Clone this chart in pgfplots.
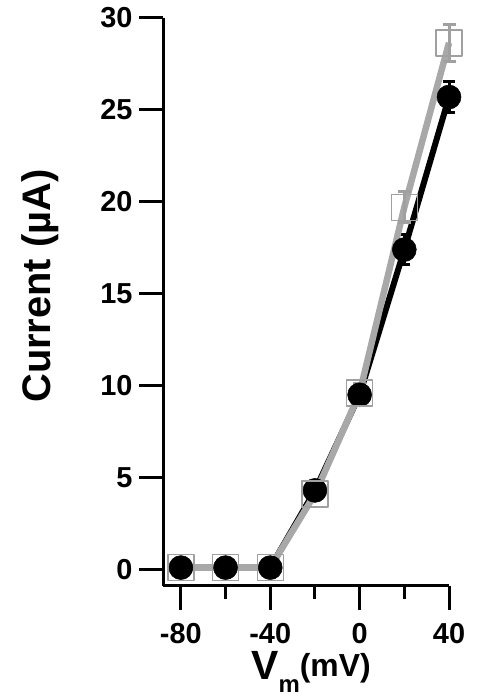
\documentclass[border=0pt]{standalone}
\usepackage{pgfplots}
\pgfplotsset{compat=1.18}
\usepackage{pgfplotstable}
\usepackage{fontspec}
\setmainfont{Liberation Sans}
\definecolor{lgray}{HTML}{A8A8A8}
\definecolor{sqgray}{HTML}{A0A0A0}
\pgfplotstableread{
x y e
-80 0.1 0.2
-60 0.1 0.2
-40 0.1 0.2
-20 4.3 0.3
0 9.5 0.4
20 17.4 0.8
40 25.7 0.85
}\blackdata
\pgfplotstableread{
x y e
-80 0.1 0.2
-60 0.1 0.2
-40 0.1 0.2
-20 4.1 0.3
0 9.6 0.5
20 19.7 0.85
40 28.65 1.0
}\graydata
\begin{document}
\begin{tikzpicture}[x=1bp,y=1bp]
\path[use as bounding box] (0,0) rectangle (480,700);
\begin{axis}[
  at={(163bp,114bp)}, anchor=south west,
  scale only axis, width=286bp, height=568bp,
  xmin=-88, xmax=40, ymin=-0.9, ymax=30,
  axis lines=left,
  axis line style={-, line width=3bp, black},
  tick align=outside,
  major tick length=24bp, minor tick length=13bp,
  every tick/.style={black, line width=3bp},
  xtick={-80,-40,0,40}, xticklabels={-80,-40,0,40},
  minor xtick={-60,-20,20},
  ytick={0,5,10,15,20,25,30}, yticklabels={0,5,10,15,20,25,30},
  tick label style={font=\fontsize{29}{29}\selectfont\bfseries},
  xticklabel style={yshift=-10bp},
  yticklabel style={xshift=-3bp},
  clip=false,
  xlabel={{\fontsize{41}{41}\selectfont V}\raisebox{-13bp}{\fontsize{24}{24}\selectfont m}\raisebox{3bp}{\fontsize{32}{32}\selectfont (mV)}},
  xlabel style={at={(axis description cs:0.5,0)}, anchor=base, yshift=-94bp, xshift=5bp, font=\bfseries},
  ylabel={Current (µA)},
  ylabel style={at={(axis description cs:-0.395,0.528)}, anchor=base, font=\fontsize{40}{40}\selectfont\bfseries},
]
\addplot[black, line width=6bp, line join=round, mark=*, mark size=12bp,
  mark options={solid, fill=black, line width=0.5bp},
  error bars/.cd, y dir=both, y explicit, error mark=|,
  error bar style={line width=3bp, black},
  error mark options={black, line width=3bp, mark size=6bp}]
  table[x=x, y=y, y error=e] {\blackdata};
\addplot[lgray, line width=6.5bp, line join=round, mark=square, mark size=13bp,
  mark options={solid, draw=sqgray, fill=none, line width=1.5bp},
  error bars/.cd, y dir=both, y explicit, error mark=|,
  error bar style={line width=3bp, sqgray},
  error mark options={sqgray, line width=3bp, mark size=6.5bp}]
  table[x=x, y=y, y error=e] {\graydata};
\end{axis}
\end{tikzpicture}
\end{document}
